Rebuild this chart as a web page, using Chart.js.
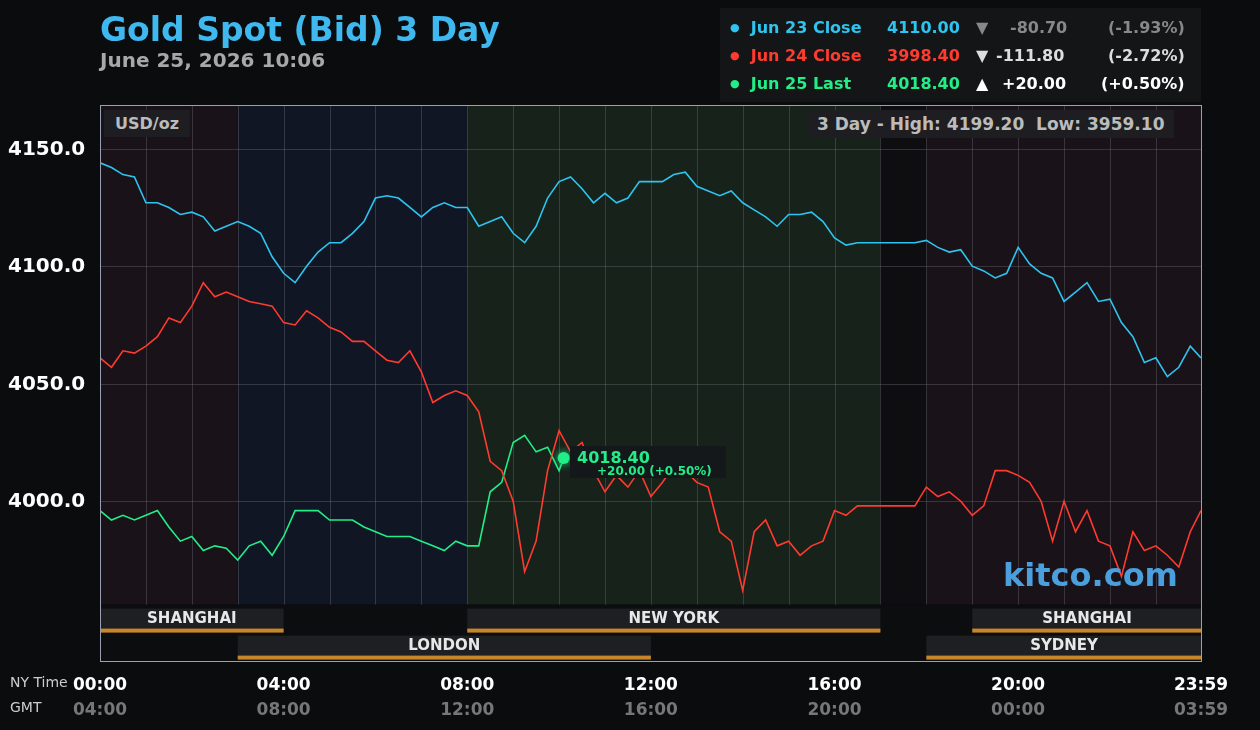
<!DOCTYPE html>
<html>
<head>
<meta charset="utf-8">
<script src="https://cdn.jsdelivr.net/npm/chart.js@4/dist/chart.umd.min.js"></script>
<style>
  body { margin: 0; background: #0b0c0e; font-family: "DejaVu Sans", sans-serif; }
  #wrap { position: relative; width: 1260px; height: 730px; }
  canvas { position: absolute; left: 0; top: 0; }
  .abs { position: absolute; white-space: pre; }
  #title { left: 100px; top: 10px; color: #3fb8ef; font-weight: bold; font-size: 33px; }
  #date { left: 100px; top: 48px; color: #a8a8a8; font-weight: bold; font-size: 20px; }
  #legend { left: 720px; top: 8px; width: 481px; height: 94px; background: #141517; }
  .lg { position: absolute; font-weight: bold; font-size: 16px; }
  .dot { font-size: 11px; position: relative; top: -2px; }
  #usd { left: 104px; top: 110px; background: #1e1e22; color: #bbb; font-weight: bold; font-size: 16px; padding: 4px 11px; }
  #hl { left: 807px; top: 110px; background: #1e1e22; color: #bbb; font-weight: bold; font-size: 17px; padding: 4px 10px; }
  #kitco { left: 1003px; top: 556px; color: #4a9fdc; font-weight: bold; font-size: 32px; }
  #tag { left: 570px; top: 446px; background: #15181a; width: 156px; height: 32px; }
</style>
</head>
<body>
<div id="wrap">
<canvas id="c" width="1260" height="730"></canvas>
<div class="abs" id="title">Gold Spot (Bid) 3 Day</div>
<div class="abs" id="date">June 25, 2026 10:06</div>
<div class="abs" id="legend">
  <div class="lg" style="left:10px;top:10px;color:#2ec4f0"><span class="dot">●</span>&nbsp;&nbsp;Jun 23 Close</div>
  <div class="lg" style="left:167px;top:10px;color:#2ec4f0">4110.00</div>
  <div class="lg" style="left:256px;top:10px;color:#888">▼</div>
  <div class="lg" style="left:290px;top:10px;color:#888">-80.70</div>
  <div class="lg" style="left:388px;top:10px;color:#888">(-1.93%)</div>
  <div class="lg" style="left:10px;top:38px;color:#ff3b2f"><span class="dot">●</span>&nbsp;&nbsp;Jun 24 Close</div>
  <div class="lg" style="left:167px;top:38px;color:#ff3b2f">3998.40</div>
  <div class="lg" style="left:256px;top:38px;color:#ddd">▼</div>
  <div class="lg" style="left:276px;top:38px;color:#ddd">-111.80</div>
  <div class="lg" style="left:388px;top:38px;color:#ddd">(-2.72%)</div>
  <div class="lg" style="left:10px;top:66px;color:#22ee88"><span class="dot">●</span>&nbsp;&nbsp;Jun 25 Last</div>
  <div class="lg" style="left:167px;top:66px;color:#22ee88">4018.40</div>
  <div class="lg" style="left:256px;top:66px;color:#fff">▲</div>
  <div class="lg" style="left:282px;top:66px;color:#fff">+20.00</div>
  <div class="lg" style="left:381px;top:66px;color:#fff">(+0.50%)</div>
</div>
<div class="abs" id="usd">USD/oz</div>
<div class="abs" id="hl">3 Day - High: 4199.20&nbsp;&nbsp;Low: 3959.10</div>
<div class="abs" id="kitco">kitco.com</div>
<div class="abs" id="tag">
  <div class="abs" style="left:7px;top:2px;color:#22ee88;font-weight:bold;font-size:16px">4018.40</div>
  <div class="abs" style="left:27px;top:18px;color:#22ee88;font-weight:bold;font-size:12px">+20.00 (+0.50%)</div>
</div>
</div>
<script>
const jun23 = [4144,4142,4139,4138,4127,4127,4125,4122,4123,4121,4115,4117,4119,4117,4114,4104,4097,4093,4100,4106,
  4110,4110,4114,4119,4129,4130,4129,4125,4121,4125,4127,4125,4125,4117,4119,4121,4114,4110,4117,4129,
  4136,4138,4133,4127,4131,4127,4129,4136,4136,4136,4139,4140,4134,4132,4130,4132,4127,4124,4121,4117,
  4122,4122,4123,4119,4112,4109,4110,4110,4110,4110,4110,4110,4111,4108,4106,4107,4100,4098,4095,4097,
  4108,4101,4097,4095,4085,4089,4093,4085,4086,4076,4070,4059,4061,4053,4057,4066,4061];
const jun24 = [4061,4057,4064,4063,4066,4070,4078,4076,4083,4093,4087,4089,4087,4085,4084,4083,4076,4075,4081,4078,
  4074,4072,4068,4068,4064,4060,4059,4064,4055,4042,4045,4047,4045,4038,4017,4013,4000,3970,3983,4013,
  4030,4021,4025,4013,4004,4011,4006,4013,4002,4008,4015,4013,4008,4006,3987,3983,3962,3987,3992,3981,
  3983,3977,3981,3983,3996,3994,3998,3998,3998,3998,3998,3998,4006,4002,4004,4000,3994,3998,4013,4013,
  4011,4008,4000,3983,4000,3987,3996,3983,3981,3968,3987,3979,3981,3977,3972,3987,3996];
const jun25 = [3996,3992,3994,3992,3994,3996,3989,3983,3985,3979,3981,3980,3975,3981,3983,3977,3985,3996,3996,3996,
  3992,3992,3992,3989,3987,3985,3985,3985,3983,3981,3979,3983,3981,3981,4004,4008,4025,4028,4021,4023,4013];
const lastTime = 606, lastValue = 4018.4;
const yTicks = [4000, 4050, 4100, 4150];
const nyLabels = ['00:00','04:00','08:00','12:00','16:00','20:00','23:59'];
const gmtLabels = ['04:00','08:00','12:00','16:00','20:00','00:00','03:59'];
const labelMinutes = [0,240,480,720,960,1200,1439];
// [label, startMin, endMin, row]
const sessions = [['SHANGHAI',0,240,0],['NEW YORK',480,1020,0],['SHANGHAI',1140,1440,0],
  ['LONDON',180,720,1],['SYDNEY',1080,1440,1]];
// [startMin, endMin, colour]
const bands = [[0,180,'#1a1219'],[180,480,'#111625'],[480,1020,'#16221a'],[1020,1080,'#0e0e10'],[1080,1440,'#1a1219']];

const pts = arr => arr.map((v, i) => ({x: Math.min(i * 15, 1439), y: v}));
const g = pts(jun25); g.push({x: lastTime, y: lastValue});

const deco = {
  id: 'deco',
  beforeDatasetsDraw(ch) {
    const {ctx, chartArea: a, scales: {x, y}} = ch;
    ctx.save();
    const bot = y.getPixelForValue(3956);
    bands.forEach(([s, e, c]) => { ctx.fillStyle = c; ctx.fillRect(x.getPixelForValue(s), a.top, x.getPixelForValue(e) - x.getPixelForValue(s), bot - a.top); });
    ctx.fillStyle = '#0c0d0f'; ctx.fillRect(a.left, bot, a.width, a.bottom - bot);
    ctx.strokeStyle = 'rgba(120,120,130,0.35)'; ctx.lineWidth = 1;
    for (let m = 60; m < 1440; m += 60) { const px = Math.round(x.getPixelForValue(m)) + 0.5; ctx.beginPath(); ctx.moveTo(px, a.top); ctx.lineTo(px, bot); ctx.stroke(); }
    yTicks.forEach(t => { const py = Math.round(y.getPixelForValue(t)) + 0.5; ctx.beginPath(); ctx.moveTo(a.left, py); ctx.lineTo(a.right, py); ctx.stroke(); });
    sessions.forEach(([lab, s, e, r]) => {
      const x0 = x.getPixelForValue(s), x1 = x.getPixelForValue(e), top = bot + 4 + r * 27;
      ctx.fillStyle = '#1e1f22'; ctx.fillRect(x0, top, x1 - x0, 22);
      ctx.fillStyle = '#c8862a'; ctx.fillRect(x0, top + 20, x1 - x0, 4);
      ctx.fillStyle = '#e8e8e8'; ctx.font = 'bold 15px "DejaVu Sans"'; ctx.textAlign = 'center'; ctx.textBaseline = 'middle';
      ctx.fillText(lab, (x0 + x1) / 2, top + 11);
    });
    ctx.restore();
  },
  afterDraw(ch) {
    const {ctx, chartArea: a, scales: {x, y}} = ch;
    ctx.save();
    ctx.strokeStyle = '#9aa0b0'; ctx.lineWidth = 1; ctx.strokeRect(a.left + 0.5, a.top + 0.5, a.width, a.height);
    ctx.font = 'bold 20px "DejaVu Sans"'; ctx.fillStyle = '#fff'; ctx.textAlign = 'left'; ctx.textBaseline = 'middle';
    yTicks.forEach(t => ctx.fillText(t.toFixed(1), 8, y.getPixelForValue(t) + 1));
    ctx.textAlign = 'center';
    labelMinutes.forEach((m, i) => {
      const px = x.getPixelForValue(m);
      ctx.fillStyle = '#fff'; ctx.font = 'bold 17px "DejaVu Sans"'; ctx.fillText(nyLabels[i], px, 686);
      ctx.fillStyle = '#777'; ctx.fillText(gmtLabels[i], px, 711);
    });
    ctx.textAlign = 'left'; ctx.font = '14px "DejaVu Sans"'; ctx.fillStyle = '#ccc';
    ctx.fillText('NY Time', 10, 683); ctx.fillText('GMT', 10, 708);
    const px = x.getPixelForValue(lastTime), py = y.getPixelForValue(lastValue);
    ctx.shadowColor = '#22ee88'; ctx.shadowBlur = 8; ctx.fillStyle = '#22ee88';
    ctx.beginPath(); ctx.arc(px, py, 6, 0, Math.PI * 2); ctx.fill();
    ctx.restore();
  }
};

new Chart(document.getElementById('c'), {
  type: 'line',
  data: {
    datasets: [
      {data: pts(jun24), borderColor: '#ff3b2f', borderWidth: 1.6, pointRadius: 0, tension: 0},
      {data: pts(jun23), borderColor: '#2ec4f0', borderWidth: 1.6, pointRadius: 0, tension: 0},
      {data: g, borderColor: '#22ee88', borderWidth: 1.6, pointRadius: 0, tension: 0}
    ]
  },
  options: {
    responsive: false, animation: false,
    layout: {padding: {left: 100, right: 59, top: 105, bottom: 69}},
    plugins: {legend: {display: false}, tooltip: {enabled: false}},
    scales: {
      x: {type: 'linear', min: 0, max: 1439, display: false},
      y: {min: 3932, max: 4168.6, display: false}
    }
  },
  plugins: [deco]
});
</script>
</body>
</html>
